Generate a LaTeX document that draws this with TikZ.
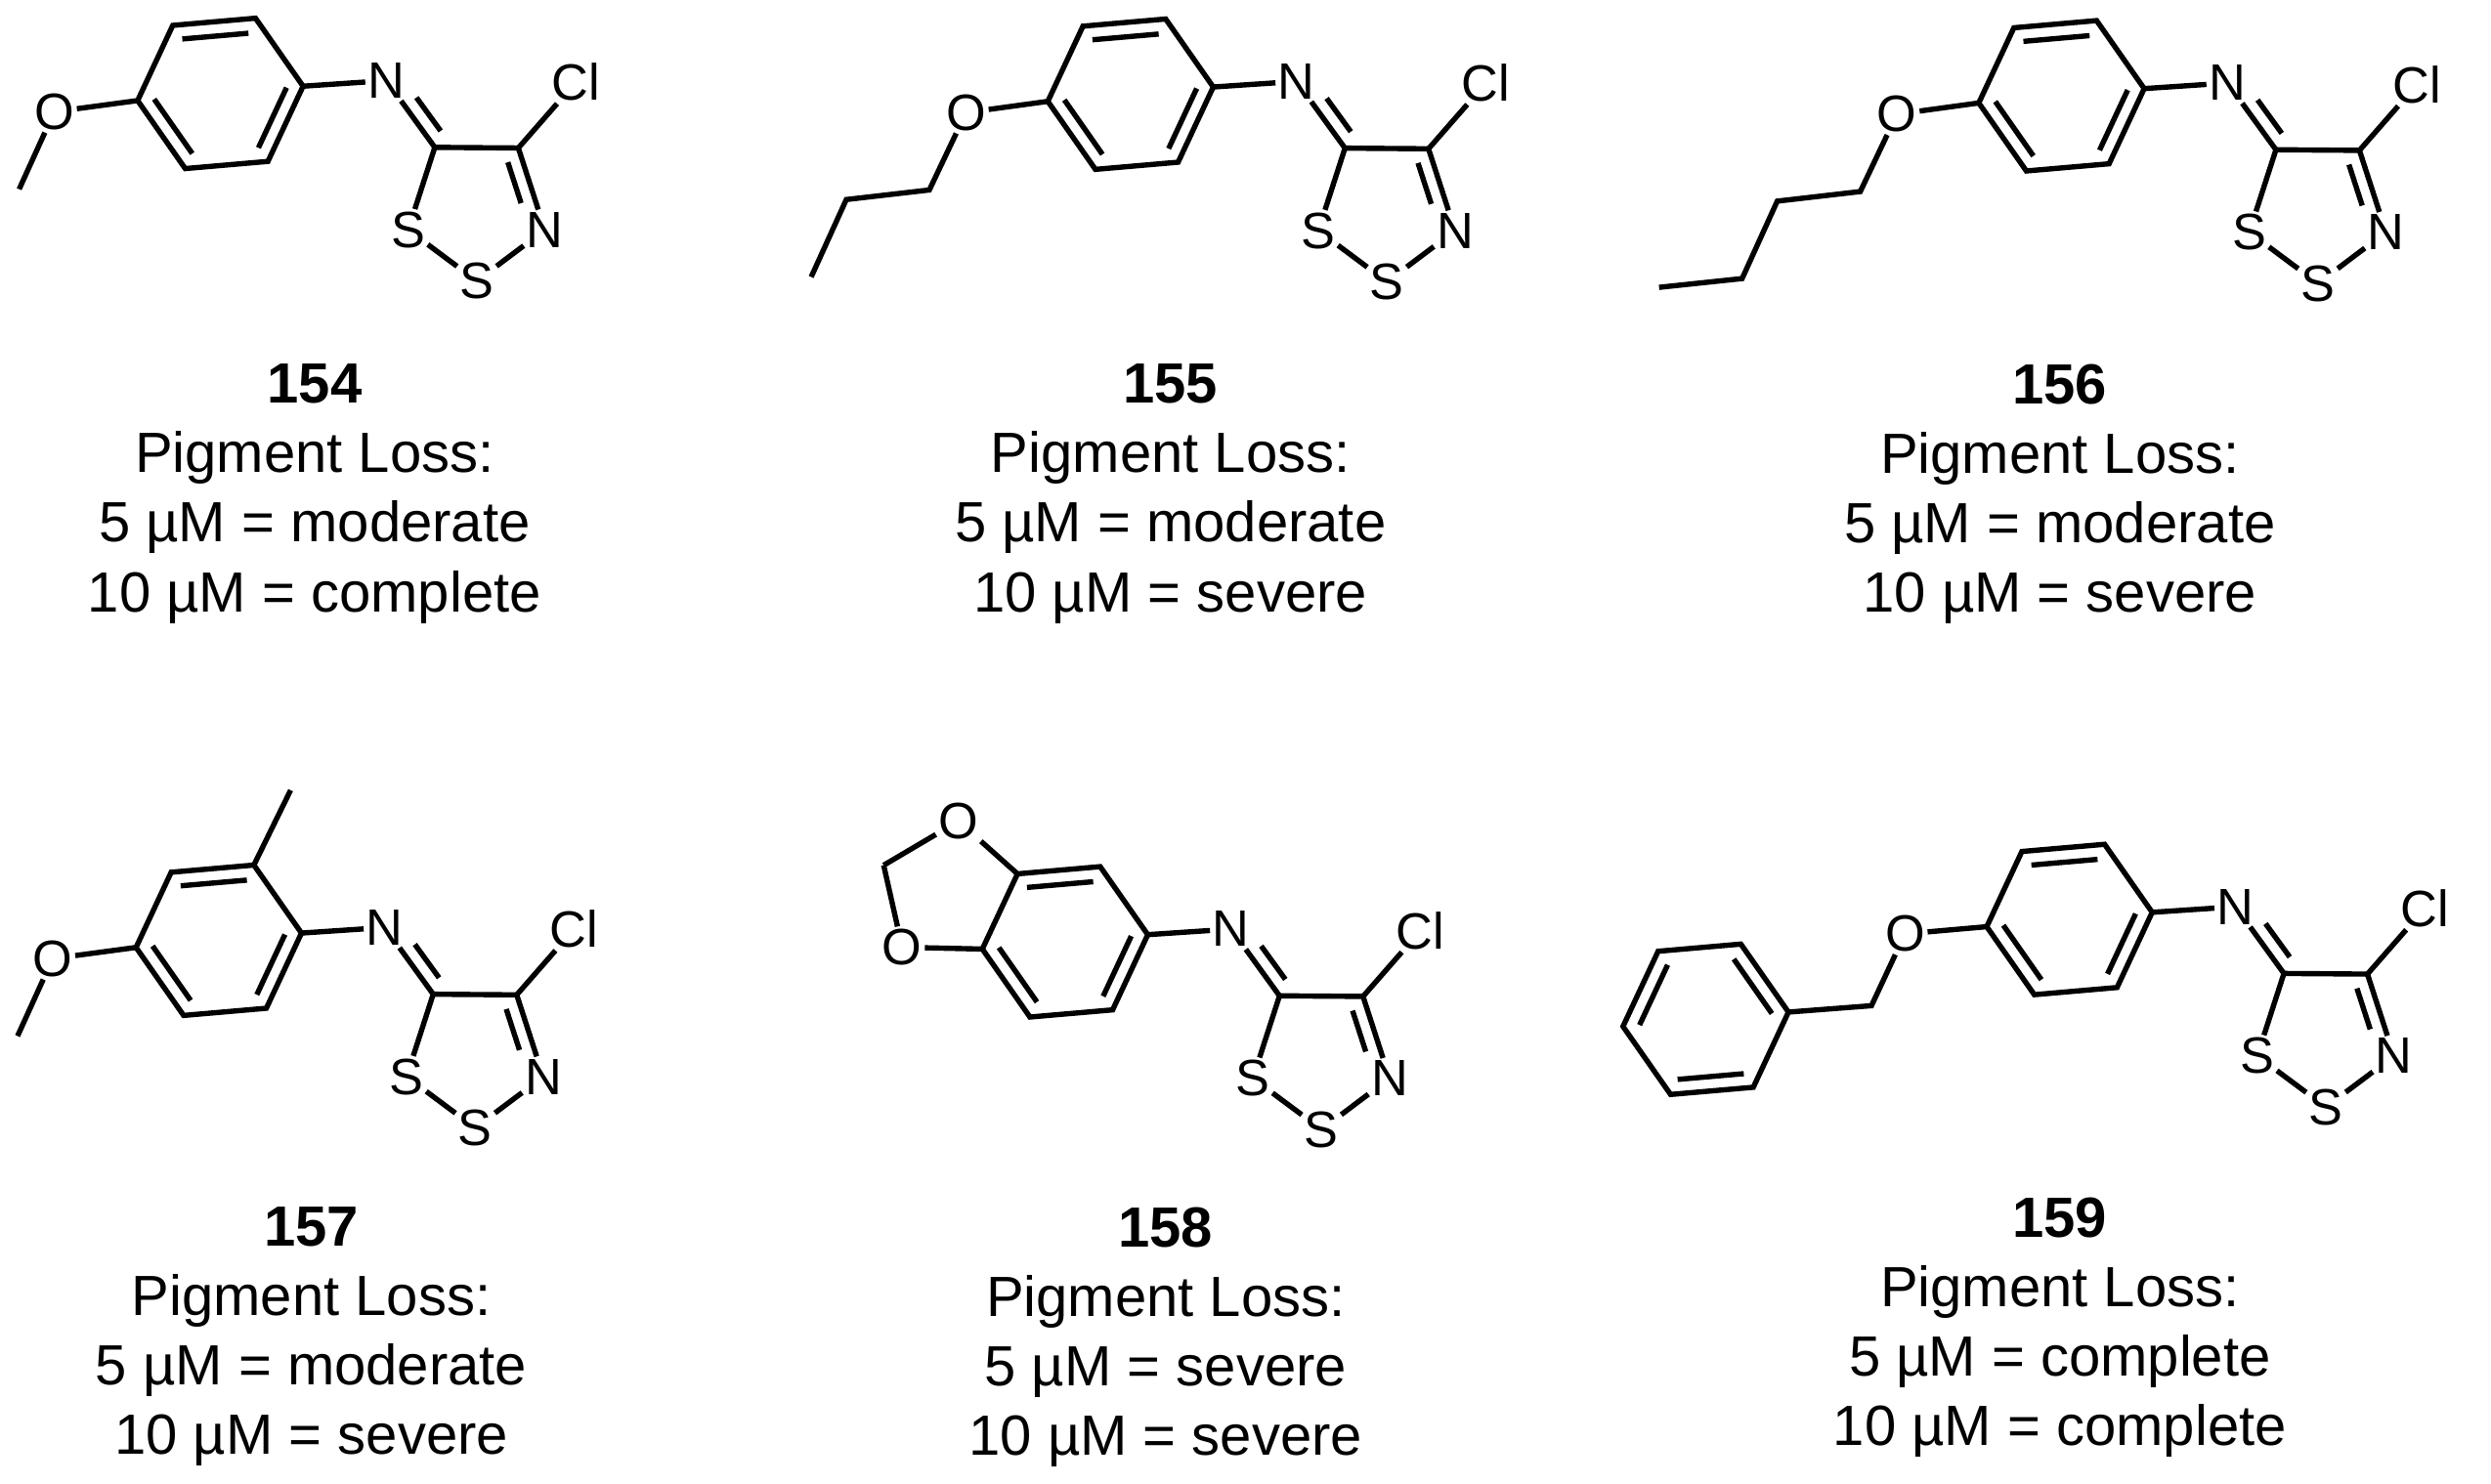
\documentclass[tikz,border=0pt]{standalone}
\usepackage{fontspec}
\setmainfont{Liberation Sans}
\usetikzlibrary{calc}
\tikzset{
  atom/.style={inner sep=1.5pt, font=\fontsize{32}{32}\selectfont},
  bond/.style={line width=3.3pt},
  lbl/.style={align=center, anchor=north, inner sep=0pt, font=\fontsize{35.5}{43.5}\selectfont}
}
% core: imine N at origin of current scope
\newcommand\core[1]{%
  \node[atom] (#1N) at (0,0) {N};
  \coordinate (#1c) at (-104,8);
  \coordinate (#1R) at (-52.2,3.5);
  \coordinate (#1TR) at (-82,-39.1);
  \coordinate (#1TL) at (-133.8,-34.6);
  \coordinate (#1L) at (-155.8,12.5);
  \coordinate (#1BL) at (-126,55.1);
  \coordinate (#1BR) at (-74.2,50.6);
  \coordinate (#1C5) at (30.3,41.8);
  \coordinate (#1C4) at (82.6,42.2);
  \coordinate (#1pc) at (56.5,79.3);
  \node[atom] (#1Cl) at (118.6,1) {Cl};
  \node[atom] (#1Nr) at (99.2,93.5) {N};
  \node[atom] (#1S2) at (56.6,125.5) {S};
  \node[atom] (#1S1) at (13.6,93.5) {S};
  \draw[bond,line join=miter] (#1R)--(#1TR)--(#1TL)--(#1L)--(#1BL)--(#1BR)--cycle;
  \draw[bond] ($(#1TR)!0.2!(#1c)$)--($(#1TL)!0.2!(#1c)$);
  \draw[bond] ($(#1L)!0.2!(#1c)$)--($(#1BL)!0.2!(#1c)$);
  \draw[bond] ($(#1BR)!0.2!(#1c)$)--($(#1R)!0.2!(#1c)$);
  \draw[bond] (#1R)--(#1N);
  \draw[bond] (#1N)--(#1C5);
  \draw[bond] ($($(#1N)!0.38!(#1C5)$)!9pt!90:(#1C5)$)--($($(#1C5)!0.12!(#1N)$)!9pt!-90:(#1N)$);
  \draw[bond] (#1C5)--(#1C4);
  \draw[bond] (#1C4)--(#1Cl);
  \draw[bond] (#1C4)--(#1Nr);
  \draw[bond] ($($(#1C4)!0.12!(#1Nr)$)!9pt!-90:(#1Nr)$)--($($(#1Nr)!0.38!(#1C4)$)!9pt!90:(#1C4)$);
  \draw[bond] (#1Nr)--(#1S2);
  \draw[bond] (#1S2)--(#1S1);
  \draw[bond] (#1S1)--(#1C5);
}
\begin{document}
\begin{tikzpicture}[x=1pt,y=-1pt]
\useasboundingbox[fill=white] (0,0) rectangle (1560,929.6);
% 154
\begin{scope}[shift={(242,50.5)}]
  \core{a}
  \node[atom] (aO) at (-208,19.5) {O};
  \coordinate (aMe) at (-230,68);
  \draw[bond] (aL)--(aO); \draw[bond] (aO)--(aMe);
\end{scope}
% 155
\begin{scope}[shift={(812,51)}]
  \core{b}
  \node[atom] (bO) at (-207,19.5) {O};
  \coordinate (b1) at (-230,68);
  \coordinate (b2) at (-282,74);
  \coordinate (b3) at (-304,122.5);
  \draw[bond] (bL)--(bO); \draw[bond,line join=miter] (bO)--(b1)--(b2)--(b3);
\end{scope}
% 156
\begin{scope}[shift={(1395,52)}]
  \core{c}
  \node[atom] (cO) at (-207,19.5) {O};
  \coordinate (c1) at (-230,68);
  \coordinate (c2) at (-282,74);
  \coordinate (c3) at (-304,122.5);
  \coordinate (c4) at (-356,128);
  \draw[bond] (cL)--(cO); \draw[bond,line join=miter] (cO)--(c1)--(c2)--(c3)--(c4);
\end{scope}
% 157
\begin{scope}[shift={(241,581)}]
  \core{d}
  \node[atom] (dO) at (-208,19.5) {O};
  \coordinate (dMe) at (-230,68);
  \coordinate (dMe2) at (-59,-86);
  \draw[bond] (dL)--(dO); \draw[bond] (dO)--(dMe);
  \draw[bond] (dTR)--(dMe2);
\end{scope}
% 158
\begin{scope}[shift={(771,582)}]
  \core{e}
  \node[atom] (eOu) at (-170.8,-67.6) {O};
  \node[atom] (eOl) at (-206,11.4) {O};
  \coordinate (eCH) at (-217.6,-40);
  \draw[bond] (eTL)--(eOu); \draw[bond] (eOu)--(eCH);
  \draw[bond] (eCH)--(eOl); \draw[bond] (eOl)--(eL);
\end{scope}
% 159
\begin{scope}[shift={(1400,568)}]
  \core{f}
  \node[atom] (fO) at (-207,17) {O};
  \coordinate (fCH) at (-228,62);
  \coordinate (fpc) at (-331.8,70.5);
  \coordinate (fpR) at (-280,66);
  \coordinate (fpTR) at (-309.8,23.4);
  \coordinate (fpTL) at (-361.6,27.9);
  \coordinate (fpL) at (-383.6,75);
  \coordinate (fpBL) at (-353.8,117.6);
  \coordinate (fpBR) at (-302,113.1);
  \draw[bond] (fL)--(fO); \draw[bond,line join=miter] (fO)--(fCH)--(fpR);
  \draw[bond,line join=miter] (fpR)--(fpTR)--(fpTL)--(fpL)--(fpBL)--(fpBR)--cycle;
  \draw[bond] ($(fpR)!0.2!(fpc)$)--($(fpTR)!0.2!(fpc)$);
  \draw[bond] ($(fpTL)!0.2!(fpc)$)--($(fpL)!0.2!(fpc)$);
  \draw[bond] ($(fpBL)!0.2!(fpc)$)--($(fpBR)!0.2!(fpc)$);
\end{scope}
% labels
\node[lbl] (t154) at (197,228) {\textbf{154}\\Pigment Loss:\\5 µM = moderate\\10 µM = complete};
\node[lbl] (t155) at (733,228) {\textbf{155}\\Pigment Loss:\\5 µM = moderate\\10 µM = severe};
\node[lbl] (t156) at (1290,228) {\textbf{156}\\Pigment Loss:\\5 µM = moderate\\10 µM = severe};
\node[lbl] (t157) at (195,756) {\textbf{157}\\Pigment Loss:\\5 µM = moderate\\10 µM = severe};
\node[lbl] (t158) at (730,756) {\textbf{158}\\Pigment Loss:\\5 µM = severe\\10 µM = severe};
\node[lbl] (t159) at (1290,750) {\textbf{159}\\Pigment Loss:\\5 µM = complete\\10 µM = complete};
\end{tikzpicture}
\end{document}
